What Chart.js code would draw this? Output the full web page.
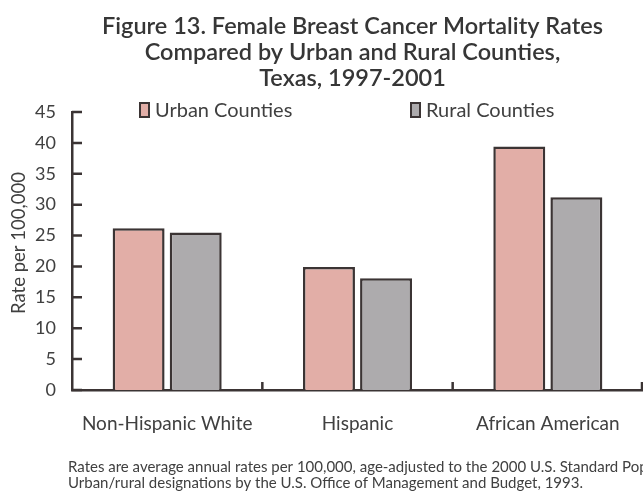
<!DOCTYPE html>
<html>
<head>
<meta charset="utf-8">
<script src="https://cdn.jsdelivr.net/npm/chart.js@4.4.1/dist/chart.umd.min.js"></script>
<style>
  html, body { margin: 0; padding: 0; background: #fff; }
  #wrap { width: 643px; height: 495px; position: relative; }
</style>
</head>
<body>
<div id="wrap"><canvas id="chart" width="643" height="495"></canvas></div>
<script>
// data
const categories = ['Non-Hispanic White', 'Hispanic', 'African American'];
const urbanRates = [26.2, 19.9, 39.4];
const ruralRates = [25.5, 18.1, 31.2];
const yTicks = [0, 5, 10, 15, 20, 25, 30, 35, 40, 45];
const titleLines = [
    'Figure 13. Female Breast Cancer Mortality Rates',
    'Compared by Urban and Rural Counties,',
    'Texas, 1997-2001'
];
const footnoteLines = [
    'Rates are average annual rates per 100,000, age-adjusted to the 2000 U.S. Standard Population.',
    'Urban/rural designations by the U.S. Office of Management and Budget, 1993.'
];

const FONT = 'Lato, "Open Sans", sans-serif';
const INK = '#3b3434';
const TEXT = '#404040';

// titles, legend, axis title, inner tick marks
const extras = {
    id: 'extras',
    afterDraw(chart) {
        const ctx = chart.ctx;
        const area = chart.chartArea;
        const x = chart.scales.x;
        const y = chart.scales.y;
        ctx.save();

        // title, roughly centred over the plot area
        ctx.fillStyle = '#363636';
        ctx.font = '600 23.5px ' + FONT;
        ctx.textAlign = 'center';
        ctx.textBaseline = 'middle';
        const cx = (area.left + area.right) / 2 - 5;
        titleLines.forEach((t, i) => ctx.fillText(t, cx, 26 + i * 26));

        // legend
        const legendX = [140, 411];
        ctx.font = '20px ' + FONT;
        ctx.textAlign = 'left';
        chart.data.datasets.forEach((ds, i) => {
            ctx.fillStyle = ds.backgroundColor;
            ctx.fillRect(legendX[i], 103, 9, 14);
            ctx.strokeStyle = INK;
            ctx.lineWidth = 2;
            ctx.strokeRect(legendX[i], 103, 9, 14);
            ctx.fillStyle = TEXT;
            ctx.fillText(ds.label, legendX[i] + 15, 111);
        });

        // y axis title
        ctx.save();
        ctx.translate(19, 243);
        ctx.rotate(-Math.PI / 2);
        ctx.textAlign = 'center';
        ctx.font = '18.5px ' + FONT;
        ctx.fillStyle = TEXT;
        ctx.fillText('Rate per 100,000', 0, 0);
        ctx.restore();

        // tick marks pointing into the plot
        ctx.strokeStyle = INK;
        ctx.lineWidth = 2.5;
        ctx.beginPath();
        yTicks.forEach(v => {
            const py = y.getPixelForValue(v);
            ctx.moveTo(area.left, py);
            ctx.lineTo(area.left + 10, py);
        });
        const half = (x.getPixelForValue(1) - x.getPixelForValue(0)) / 2;
        for (let i = 0; i < categories.length; i++) {
            const px = Math.min(x.getPixelForValue(i) + half, area.right - 1);
            ctx.moveTo(px, area.bottom);
            ctx.lineTo(px, area.bottom - 8);
        }
        ctx.stroke();

        // footnote
        ctx.font = '15px ' + FONT;
        ctx.fillStyle = TEXT;
        ctx.textAlign = 'left';
        footnoteLines.forEach((t, i) => ctx.fillText(t, 68, 467 + i * 16));

        ctx.restore();
    }
};

new Chart(document.getElementById('chart'), {
    type: 'bar',
    data: {
        labels: categories,
        datasets: [
            {
                label: 'Urban Counties',
                data: urbanRates,
                backgroundColor: '#e2aea7',
                borderColor: INK,
                borderWidth: 2.5,
                borderSkipped: 'bottom'
            },
            {
                label: 'Rural Counties',
                data: ruralRates,
                backgroundColor: '#adabad',
                borderColor: INK,
                borderWidth: 2.5,
                borderSkipped: 'bottom'
            }
        ]
    },
    options: {
        responsive: false,
        animation: false,
        layout: { padding: { top: 112, bottom: 60, left: 0, right: 0 } },
        datasets: {
            bar: { categoryPercentage: 0.6, barPercentage: 0.91 }
        },
        plugins: {
            legend: { display: false },
            title: { display: false },
            tooltip: { enabled: false }
        },
        scales: {
            x: {
                grid: { display: false, drawTicks: false },
                border: { display: true, color: INK, width: 2.5 },
                ticks: { color: TEXT, font: { family: FONT, size: 19 }, padding: 22, maxRotation: 0 },
                afterFit(scale) { scale.height = 45; }
            },
            y: {
                min: 0,
                max: 45,
                afterBuildTicks(scale) { scale.ticks = yTicks.map(v => ({ value: v })); },
                grid: { display: false, drawTicks: false },
                border: { display: true, color: INK, width: 2.5 },
                ticks: { color: TEXT, font: { family: FONT, size: 18 }, padding: 16 },
                afterFit(scale) { scale.width = 72; }
            }
        }
    },
    plugins: [extras]
});
</script>
</body>
</html>
